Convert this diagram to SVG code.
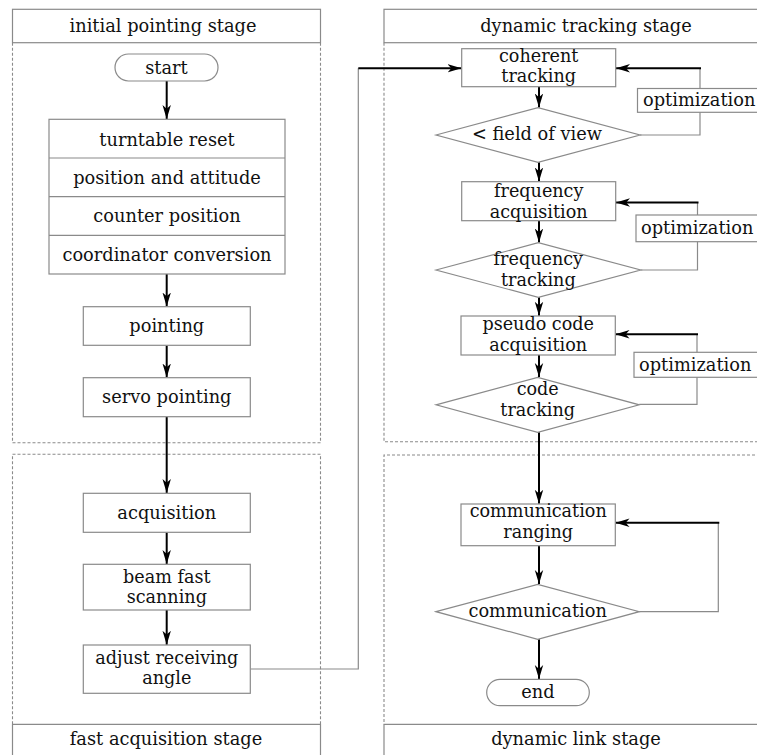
<svg xmlns="http://www.w3.org/2000/svg" width="757" height="755" viewBox="0 0 757 755">
<style>
text{font-family:"DejaVu Serif","Liberation Serif",serif;font-size:17.8px;fill:#111;text-anchor:middle}
.two{font-size:17.6px}
.opt{text-anchor:start}
.box{fill:#fff;stroke:#8a8a8a;stroke-width:1.2}
.solid{fill:none;stroke:#8a8a8a;stroke-width:1.2}
.dash{fill:none;stroke:#8a8a8a;stroke-width:1.1;stroke-dasharray:3 2}
.thin{fill:none;stroke:#8a8a8a;stroke-width:1.2}
.arr{fill:none;stroke:#000;stroke-width:2;marker-end:url(#ah)}
</style>
<defs>
<marker id="ah" markerUnits="userSpaceOnUse" markerWidth="15" markerHeight="10" refX="14" refY="5" orient="auto">
<path d="M0,0.8 L14,5 L0,9.2 L3.8,5 Z" fill="#000"/>
</marker>
</defs>
<rect width="757" height="755" fill="#fff"/>

<g id="panels">
  <g id="panel-initial">
    <rect class="solid" x="12.5" y="9.3" width="308" height="33.4"/>
    <text x="163" y="32">initial pointing stage</text>
    <path class="dash" d="M12.5,42.7 V442.7 H320.5 V42.7"/>
  </g>
  <g id="panel-fast">
    <path class="dash" d="M12.5,724.3 V454.3 H320.5 V724.3"/>
    <path class="solid" d="M12.5,760 V724.3 H320.5 V760"/>
    <text x="166" y="745">fast acquisition stage</text>
  </g>
  <g id="panel-tracking">
    <rect class="solid" x="384" y="9.3" width="420" height="33.4"/>
    <text x="586" y="32">dynamic tracking stage</text>
    <path class="dash" d="M384,42.7 V441.7 H760"/>
  </g>
  <g id="panel-link">
    <path class="dash" d="M760,455 H384 V724.3"/>
    <path class="solid" d="M384,760 V724.3 H760"/>
    <text x="576" y="745">dynamic link stage</text>
  </g>
</g>

<g id="connectors">
  <path class="arr" d="M166.7,81 V119"/>
  <path class="arr" d="M166.7,274 V306.5"/>
  <path class="arr" d="M166.7,345.3 V377.5"/>
  <path class="arr" d="M166.7,416.7 V493"/>
  <path class="arr" d="M166.7,532.3 V564"/>
  <path class="arr" d="M166.7,610 V644.8"/>
  <path class="thin" d="M250.5,669 H358.3 V68.3"/>
  <path class="arr" d="M358.3,68.3 H461.5"/>
  <path class="arr" d="M539,86.7 V107.5"/>
  <path class="thin" d="M640,135 H700 V68.3"/>
  <path class="arr" d="M701,68.3 H616"/>
  <path class="arr" d="M539,162.3 V181.5"/>
  <path class="thin" d="M640.7,270 H697.5 V202.5"/>
  <path class="arr" d="M698.5,202.5 H616"/>
  <path class="arr" d="M539,220.7 V242.5"/>
  <path class="arr" d="M539,297.3 V315.8"/>
  <path class="thin" d="M639.3,404.3 H697 V334.3"/>
  <path class="arr" d="M698,334.3 H615.5"/>
  <path class="arr" d="M539,355 V377.1"/>
  <path class="arr" d="M539,432.3 V503.8"/>
  <path class="thin" d="M639.3,611.7 H718.3 V522.7"/>
  <path class="arr" d="M719.3,522.7 H615.5"/>
  <path class="arr" d="M539,545.7 V584.1"/>
  <path class="arr" d="M539,639.3 V679.1"/>
</g>

<g id="start">
  <rect class="box" x="115" y="54" width="103" height="27" rx="13.5"/>
  <text x="166.5" y="74">start</text>
</g>
<g id="init-steps">
  <rect class="box" x="49" y="119.3" width="236" height="154.7"/>
  <path class="solid" d="M49,158 H285 M49,196.7 H285 M49,235.3 H285"/>
  <text x="167" y="146">turntable reset</text>
  <text x="167" y="184.3">position and attitude</text>
  <text x="167" y="222">counter position</text>
  <text x="167" y="260.5">coordinator conversion</text>
</g>
<g id="pointing">
  <rect class="box" x="83.3" y="306.7" width="167" height="38.6"/>
  <text x="166.8" y="331.7">pointing</text>
</g>
<g id="servo-pointing">
  <rect class="box" x="83.3" y="377.7" width="167" height="39"/>
  <text x="166.8" y="403">servo pointing</text>
</g>
<g id="acquisition">
  <rect class="box" x="83.3" y="493.3" width="167" height="39"/>
  <text x="166.8" y="518.5">acquisition</text>
</g>
<g id="beam-fast-scanning">
  <rect class="box" x="83.3" y="564.3" width="167" height="45.7"/>
  <text class="two" x="166.8" y="582.6">beam fast</text>
  <text class="two" x="166.8" y="603.1">scanning</text>
</g>
<g id="adjust-receiving-angle">
  <rect class="box" x="83.3" y="645" width="167" height="48.3"/>
  <text class="two" x="166.8" y="663.6">adjust receiving</text>
  <text class="two" x="166.8" y="684.1">angle</text>
</g>

<g id="coherent-tracking">
  <rect class="box" x="461.7" y="48.7" width="154" height="38"/>
  <text class="two" x="538.7" y="61.7">coherent</text>
  <text class="two" x="538.7" y="82.2">tracking</text>
</g>
<g id="field-of-view">
  <polygon class="box" points="436,135 538,107.7 640,135 538,162.3"/>
  <text x="537" y="140">&lt; field of view</text>
</g>
<g id="optimization-1">
  <rect class="box" x="637.5" y="88.5" width="140" height="23.8"/>
  <text class="opt" x="643" y="106">optimization</text>
</g>
<g id="frequency-acquisition">
  <rect class="box" x="461.7" y="181.7" width="154" height="39"/>
  <text class="two" x="538.7" y="197">frequency</text>
  <text class="two" x="538.7" y="217.5">acquisition</text>
</g>
<g id="optimization-2">
  <rect class="box" x="636" y="215" width="140" height="26.7"/>
  <text class="opt" x="641" y="234">optimization</text>
</g>
<g id="frequency-tracking">
  <polygon class="box" points="436,270 538.3,242.7 640.7,270 538.3,297.3"/>
  <text class="two" x="538.3" y="265.2">frequency</text>
  <text class="two" x="538.3" y="285.7">tracking</text>
</g>
<g id="pseudo-code-acquisition">
  <rect class="box" x="461" y="316" width="154.3" height="39"/>
  <text class="two" x="538.2" y="330.2">pseudo code</text>
  <text class="two" x="538.2" y="350.7">acquisition</text>
</g>
<g id="optimization-3">
  <rect class="box" x="634" y="352.3" width="140" height="25"/>
  <text class="opt" x="639" y="370.5">optimization</text>
</g>
<g id="code-tracking">
  <polygon class="box" points="436,404.8 537.7,377.3 639.3,404.8 537.7,432.3"/>
  <text class="two" x="537.7" y="395.2">code</text>
  <text class="two" x="537.7" y="415.7">tracking</text>
</g>
<g id="communication-ranging">
  <rect class="box" x="461" y="504" width="154.3" height="41.7"/>
  <text class="two" x="538.2" y="517.2">communication</text>
  <text class="two" x="538.2" y="537.7">ranging</text>
</g>
<g id="communication">
  <polygon class="box" points="436,611.7 537.7,584.3 639.3,611.7 537.7,639.3"/>
  <text x="537.7" y="616.7">communication</text>
</g>
<g id="end">
  <rect class="box" x="486.7" y="679.3" width="102.6" height="26.4" rx="13.2"/>
  <text x="538" y="698">end</text>
</g>
</svg>
